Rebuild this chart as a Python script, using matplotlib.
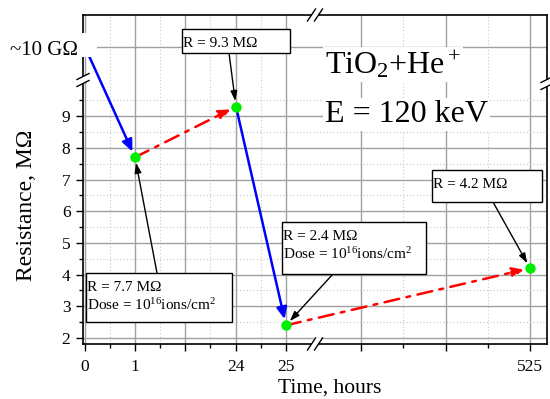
import numpy as np
import matplotlib
matplotlib.use('Agg')
import matplotlib.pyplot as plt
from matplotlib.transforms import Affine2D
from matplotlib.patches import Rectangle, Polygon
from matplotlib.lines import Line2D
from matplotlib.ticker import FixedLocator, FixedFormatter

plt.rcParams['font.family'] = ['Liberation Serif', 'DejaVu Serif']
plt.rcParams['mathtext.fontset'] = 'custom'
plt.rcParams['mathtext.rm'] = 'Liberation Serif'
plt.rcParams['mathtext.it'] = 'Liberation Serif:italic'
plt.rcParams['mathtext.bf'] = 'Liberation Serif:bold'

# ---------------- data ----------------
time_hours = [0, 1, 24, 25, 525]
resistance_mohm = [10000, 7.7, 9.3, 2.4, 4.2]      # first value ~10 GOhm
step_kind = ['implant', 'relax', 'implant', 'relax']
x_tick_values = [0, 1, 24, 25, 525]
x_tick_labels = ['0', '1', '24', '25', '525']
y_tick_values = [2, 3, 4, 5, 6, 7, 8, 9]
y_tick_labels = ['2', '3', '4', '5', '6', '7', '8', '9']
top_value_label = '~10 G\u03a9'
note_point_index = [2, 1, 3, 4]
note_texts = [
    ['R = 9.3 M\u03a9'],
    ['R = 7.7 M\u03a9', 'Dose = 10$^{16}$ions/cm$^2$'],
    ['R = 2.4 M\u03a9', 'Dose = 10$^{16}$ions/cm$^2$'],
    ['R = 4.2 M\u03a9'],
]
title_lines = ['TiO$_2$+He$^+$', 'E = 120 keV']
x_label = 'Time, hours'
y_label = 'Resistance, M\u03a9'

# ---------------- broken-axis scales ----------------
XT = [-10, 0, 1, 24, 25, 525, 1525]
XU = [-10, 0, 1, 3.02, 4.02, 8.9, 18.66]
YR = [-10, 10, 10000, 30000]
YU = [-10, 10, 11.18, 13.54]

def fwd_x(t):
    return np.interp(t, XT, XU)

def inv_x(u):
    return np.interp(u, XU, XT)

def fwd_y(r):
    return np.interp(r, YR, YU)

def inv_y(u):
    return np.interp(u, YU, YR)

W, H = 550, 399
fig = plt.figure(figsize=(W / 100, H / 100), dpi=100)
ax = fig.add_axes([83 / W, 1 - 344 / H, 464 / W, 329 / H])
pxT = Affine2D().scale(1 / W, -1 / H).translate(0, 1) + fig.transFigure

ax.set_xscale('function', functions=(fwd_x, inv_x))
ax.set_yscale('function', functions=(fwd_y, inv_y))
ax.set_xlim(inv_x(-0.04), inv_x(9.24))
ax.set_ylim(inv_y(1.81), inv_y(12.19))

# ticks
x_major = list(inv_x(np.array([0, 1, 2, 3.02, 4.02, 5.52, 7.22, 8.9])))
x_major_labels = []
for v in x_major:
    lab = ''
    for tv, tl in zip(x_tick_values, x_tick_labels):
        if abs(v - tv) < 1e-6:
            lab = tl
    x_major_labels.append(lab)
ax.xaxis.set_major_locator(FixedLocator(x_major))
ax.xaxis.set_major_formatter(FixedFormatter(x_major_labels))
ax.xaxis.set_minor_locator(FixedLocator(inv_x(np.array([0.5, 1.5, 2.5, 3.52, 6.37, 8.06]))))

ax.yaxis.set_major_locator(FixedLocator(y_tick_values + [resistance_mohm[0]]))
ax.yaxis.set_major_formatter(FixedFormatter(y_tick_labels + ['']))
ax.yaxis.set_minor_locator(FixedLocator([v + 0.5 for v in y_tick_values]))

ax.tick_params(which='both', direction='out', top=False, right=False,
               labelsize=12.5, width=1, colors='black')
ax.tick_params(which='major', length=5)
ax.tick_params(which='minor', length=3)
ax.tick_params(axis='x', pad=6)
ax.tick_params(axis='y', pad=4)

ax.set_axisbelow(True)
ax.grid(True, which='major', color='#a0a0a0', lw=1.0)
ax.grid(True, which='minor', color='#c8c8c8', lw=0.8, ls=(0, (1, 2)))
for s in ax.spines.values():
    s.set_linewidth(1.2)
    s.set_color('black')

# segments with arrows
for i, kind in enumerate(step_kind):
    if kind == 'implant':
        col, ls = '#0000ff', '-'
    else:
        col, ls = '#ff0000', (0, (6, 3, 1.5, 3))
    ax.annotate('', xy=(time_hours[i + 1], resistance_mohm[i + 1]),
                xytext=(time_hours[i], resistance_mohm[i]),
                arrowprops=dict(arrowstyle='-|>,head_length=0.5,head_width=0.22',
                                color=col, lw=1.8, linestyle=ls,
                                shrinkA=0, shrinkB=4.5, mutation_scale=14),
                zorder=3)

ax.plot(time_hours[1:], resistance_mohm[1:], 'o', color='#00ee00',
        ms=7.5, mec='none', zorder=6)

# ~10 GOhm label with white background
fig.patches.append(Rectangle((0, 33), 97, 24, transform=pxT, fc='white',
                             ec='none', zorder=9))
fig.text(10, 55, top_value_label, transform=pxT, fontsize=15,
         ha='left', va='baseline', zorder=10)

# annotation boxes: (left, top, width, height) px, arrow start px
note_boxes = [(182, 29, 108, 24), (86, 273, 146, 49),
              (282, 222, 144, 52), (432, 170, 110, 32)]
note_starts = [(229, 53), (157, 273), (333, 274), (493, 202)]
for idx, lines, box, st in zip(note_point_index, note_texts, note_boxes, note_starts):
    bx, by, bw, bh = box
    fig.patches.append(Rectangle((bx, by), bw, bh, transform=pxT, fc='white',
                                 ec='black', lw=1.0, zorder=7))
    for k, line in enumerate(lines):
        fig.text(bx + 1, by + 18 + 19 * k, line, transform=pxT, fontsize=11,
                 ha='left', va='baseline', zorder=8)
    ax.annotate('', xy=(time_hours[idx], resistance_mohm[idx]),
                xytext=(st[0] / W, 1 - st[1] / H), textcoords='figure fraction',
                arrowprops=dict(arrowstyle='-|>,head_length=0.6,head_width=0.2',
                                color='black', lw=1.0, shrinkA=0, shrinkB=4,
                                mutation_scale=10),
                zorder=5)

# title texts
ax.text(325, 73, title_lines[0], transform=pxT, fontsize=23, ha='left',
        va='baseline', zorder=4,
        bbox=dict(fc='white', ec='none', boxstyle='square,pad=0.05'))
ax.text(325, 122, title_lines[1], transform=pxT, fontsize=23, ha='left',
        va='baseline', zorder=4,
        bbox=dict(fc='white', ec='none', boxstyle='square,pad=0.05'))

# axis labels
fig.text(329.5, 393, x_label, transform=pxT, fontsize=15.5, ha='center', va='baseline')
fig.text(27, 205, y_label, transform=pxT, fontsize=17, ha='center', va='center',
         rotation=90)

# axis-break marks
def hbreak(cx, cy):
    fig.patches.append(Polygon([(cx - 6, cy + 6), (cx - 1, cy - 6), (cx + 6, cy - 6),
                                (cx + 1, cy + 6)], closed=True, transform=pxT,
                               fc='white', ec='none', zorder=11))
    for dx in (-3.5, 3.5):
        fig.lines.append(Line2D([cx + dx - 4, cx + dx + 4], [cy + 6, cy - 6],
                                transform=pxT, color='black', lw=1.0, zorder=12))

def vbreak(cx, cy):
    fig.patches.append(Polygon([(cx - 6, cy + 6), (cx + 6, cy + 1), (cx + 6, cy - 6),
                                (cx - 6, cy - 1)], closed=True, transform=pxT,
                               fc='white', ec='none', zorder=11))
    for dy in (-3.5, 3.5):
        fig.lines.append(Line2D([cx - 6, cx + 6], [cy + dy + 3, cy + dy - 3],
                                transform=pxT, color='black', lw=1.0, zorder=12))

hbreak(315, 344)
hbreak(315, 15)
vbreak(83, 80)
vbreak(547, 83)

fig.savefig('out.png', dpi=100)
